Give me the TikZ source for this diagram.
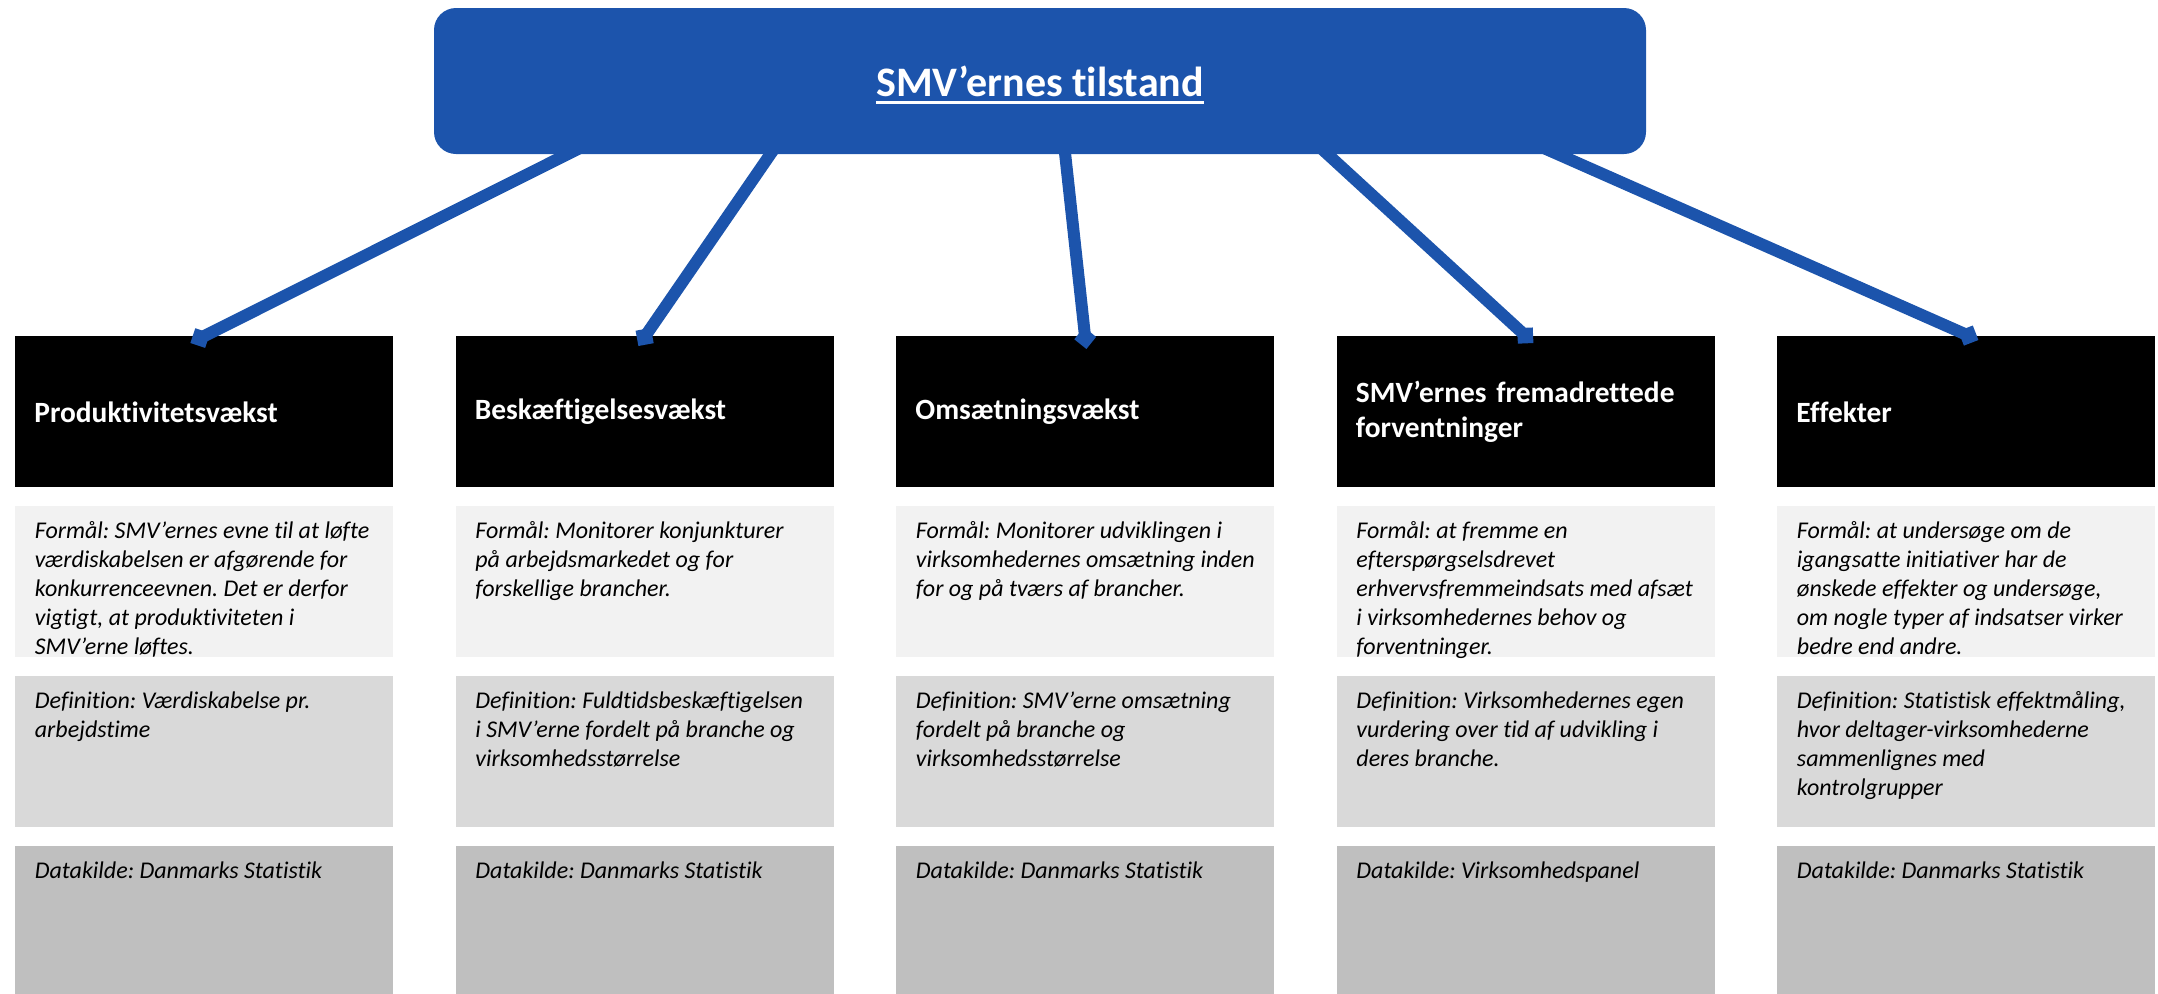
\documentclass[tikz,border=0pt]{standalone}
\usepackage{fontspec}
\setmainfont{Carlito}[Ligatures={NoCommon}]
\usetikzlibrary{arrows.meta,calc}
\definecolor{smvblue}{RGB}{28,84,172}
\definecolor{formgrey}{RGB}{242,242,242}
\definecolor{defgrey}{RGB}{217,217,217}
\definecolor{kildegrey}{RGB}{191,191,191}
\frenchspacing

\begin{document}
\begin{tikzpicture}[x=0.5pt,y=-0.5pt,
    topbox/.style={fill=smvblue,rounded corners=11pt,minimum width=606pt,minimum height=73pt,inner sep=0pt},
    header/.style={fill=black,text=white,anchor=north west,minimum width=189pt,minimum height=75.5pt,
      text width=170pt,inner xsep=9.5pt,inner ysep=0pt,align=left,font=\bfseries\fontsize{14.7}{17.5}\selectfont},
    cell/.style={fill=#1,anchor=north west,minimum width=189pt,minimum height=75.5pt,inner sep=0pt},
    celltext/.style={anchor=north west,align=left,inner sep=0pt,font=\itshape\fontsize{12}{14.5}\selectfont},
    link/.style={smvblue,line width=6pt,-{Diamond[length=11pt,width=11pt]}}]
    \useasboundingbox (0,0) rectangle (2158,993);
    \node[topbox] (top) at (1040,81) {};
    \node[text=white,inner sep=0pt,anchor=base,font=\bfseries\fontsize{21}{25}\selectfont] (titel) at (1040,96) {SMV’ernes tilstand};
    \draw[white,line width=1.5pt] ([yshift=-3pt]titel.base west) -- ([yshift=-3pt]titel.base east);

    \node[header] (h1) at (15,336) {Produktivitetsvækst};
    \node[header] (h2) at (455.5,336) {Beskæftigelsesvækst};
    \node[header] (h3) at (896,336) {Omsætningsvækst};
    \node[header] (h4) at (1336.5,336) {SMV’ernes fremadrettede\\forventninger};
    \node[header] (h5) at (1777,336) {Effekter};

    \node[cell=formgrey] (f1) at (15,506) {};
    \node[cell=formgrey] (f2) at (455.5,506) {};
    \node[cell=formgrey] (f3) at (896,506) {};
    \node[cell=formgrey] (f4) at (1336.5,506) {};
    \node[cell=formgrey] (f5) at (1777,506) {};
    \node[cell=defgrey] (d1) at (15,676) {};
    \node[cell=defgrey] (d2) at (455.5,676) {};
    \node[cell=defgrey] (d3) at (896,676) {};
    \node[cell=defgrey] (d4) at (1336.5,676) {};
    \node[cell=defgrey] (d5) at (1777,676) {};
    \node[cell=kildegrey] (k1) at (15,846) {};
    \node[cell=kildegrey] (k2) at (455.5,846) {};
    \node[cell=kildegrey] (k3) at (896,846) {};
    \node[cell=kildegrey] (k4) at (1336.5,846) {};
    \node[cell=kildegrey] (k5) at (1777,846) {};

    \node[celltext] (tf1) at ([xshift=9.75pt,yshift=-5.85pt]f1.north west) {\strut Formål: SMV’ernes evne til at løfte\\værdiskabelsen er afgørende for\\konkurrenceevnen. Det er derfor\\vigtigt, at produktiviteten i\\SMV’erne løftes.};
    \node[celltext] (tf2) at ([xshift=9.75pt,yshift=-5.85pt]f2.north west) {\strut Formål: Monitorer konjunkturer\\på arbejdsmarkedet og for\\forskellige brancher.};
    \node[celltext] (tf3) at ([xshift=9.75pt,yshift=-5.85pt]f3.north west) {\strut Formål: Monitorer udviklingen i\\virksomhedernes omsætning inden\\for og på tværs af brancher.};
    \node[celltext] (tf4) at ([xshift=9.75pt,yshift=-5.85pt]f4.north west) {\strut Formål: at fremme en\\efterspørgselsdrevet\\erhvervsfremmeindsats med afsæt\\i virksomhedernes behov og\\forventninger.};
    \node[celltext] (tf5) at ([xshift=9.75pt,yshift=-5.85pt]f5.north west) {\strut Formål: at undersøge om de\\igangsatte initiativer har de\\ønskede effekter og undersøge,\\om nogle typer af indsatser virker\\bedre end andre.};

    \node[celltext] (td1) at ([xshift=9.75pt,yshift=-5.85pt]d1.north west) {\strut Definition: Værdiskabelse pr.\\arbejdstime};
    \node[celltext] (td2) at ([xshift=9.75pt,yshift=-5.85pt]d2.north west) {\strut Definition: Fuldtidsbeskæftigelsen\\i SMV’erne fordelt på branche og\\virksomhedsstørrelse};
    \node[celltext] (td3) at ([xshift=9.75pt,yshift=-5.85pt]d3.north west) {\strut Definition: SMV’erne omsætning\\fordelt på branche og\\virksomhedsstørrelse};
    \node[celltext] (td4) at ([xshift=9.75pt,yshift=-5.85pt]d4.north west) {\strut Definition: Virksomhedernes egen\\vurdering over tid af udvikling i\\deres branche.};
    \node[celltext] (td5) at ([xshift=9.75pt,yshift=-5.85pt]d5.north west) {\strut Definition: Statistisk effektmåling,\\hvor deltager-virksomhederne\\sammenlignes med\\kontrolgrupper};

    \node[celltext] (tk1) at ([xshift=9.75pt,yshift=-5.85pt]k1.north west) {\strut Datakilde: Danmarks Statistik};
    \node[celltext] (tk2) at ([xshift=9.75pt,yshift=-5.85pt]k2.north west) {\strut Datakilde: Danmarks Statistik};
    \node[celltext] (tk3) at ([xshift=9.75pt,yshift=-5.85pt]k3.north west) {\strut Datakilde: Danmarks Statistik};
    \node[celltext] (tk4) at ([xshift=9.75pt,yshift=-5.85pt]k4.north west) {\strut Datakilde: Virksomhedspanel};
    \node[celltext] (tk5) at ([xshift=9.75pt,yshift=-5.85pt]k5.north west) {\strut Datakilde: Danmarks Statistik};

    \draw[link] ($(top.south)+(-433,-20)$) -- ($(h1.north)+(-14,7)$);
    \draw[link] ($(top.south)+(-256,-20)$) -- ($(h2.north)+(-6.5,10)$);
    \draw[link] ($(top.south)+(23,-20)$) -- ($(h3.north)+(1,13)$);
    \draw[link] ($(top.south)+(266,-20)$) -- ($(h4.north)+(7.5,7)$);
    \draw[link] ($(top.south)+(473,-20)$) -- ($(h5.north)+(12,4)$);
  \end{tikzpicture}
\end{document}
